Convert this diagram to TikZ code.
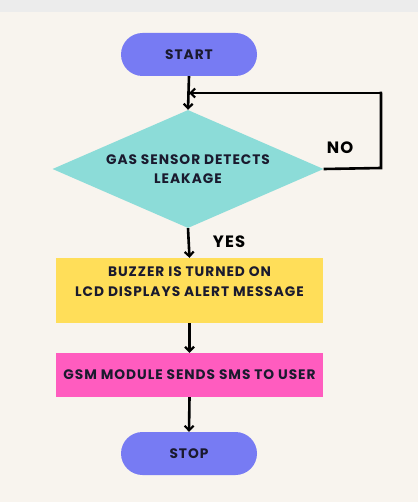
\documentclass[tikz,border=0pt]{standalone}
\usepackage{fontspec}
\setmainfont{Poppins}[LetterSpace=7]
\usetikzlibrary{shapes.geometric,shapes.misc,arrows.meta}
\definecolor{bgc}{HTML}{F8F4EE}
\definecolor{topc}{HTML}{ECECEC}
\definecolor{termc}{HTML}{777BF3}
\definecolor{decc}{HTML}{8CDCD8}
\definecolor{yelc}{HTML}{FFDE59}
\definecolor{pinkc}{HTML}{FF5CBF}
\definecolor{txtc}{HTML}{1A1A2E}
\tikzset{
  px/.style={x=1bp,y=-1bp},
  lbl/.style={font=\bfseries\fontsize{13.8}{19.5}\selectfont, text=txtc, align=center},
  biglbl/.style={font=\bfseries\fontsize{16.5}{19.5}\selectfont, text=black, align=center},
  term/.style={lbl, fill=termc, rounded rectangle, minimum width=136bp, minimum height=43bp, inner sep=0pt},
  dec/.style={lbl, fill=decc, diamond, aspect=2.3, minimum width=271bp, minimum height=118bp, inner sep=0pt},
  procbox/.style={lbl, fill=#1, rectangle, minimum width=267bp, inner sep=0pt},
  conn/.style={line width=2.6bp, -{Straight Barb[length=4.5bp,width=9bp,line width=2.2bp]}},
  plain/.style={line width=2.6bp},
}
\begin{document}
\begin{tikzpicture}[px]
\fill[bgc] (0,0) rectangle (418,502);
\fill[topc] (0,0) rectangle (418,12);
\useasboundingbox (0,0) rectangle (418,502);
\node[term] (start) at (189,54.5) {START};
\node[dec] (dec) at (188,169) {};
\node[lbl] (dect) at (188,169) {GAS SENSOR DETECTS\\LEAKAGE};
\node[procbox=yelc, minimum height=65bp] (buz) at (189.5,290.5) {};
\node[lbl] (buzt) at (189.5,281.5) {BUZZER IS TURNED ON\\LCD DISPLAYS ALERT MESSAGE};
\node[procbox=pinkc, minimum height=44bp] (gsm) at (189.5,375) {GSM MODULE SENDS SMS TO USER};
\node[term] (stop) at (189,453.5) {STOP};
\coordinate (r1) at (381,168);
\coordinate (r2) at (381,93);
\coordinate (r3) at (189,93);
\draw[conn] (start.south) -- (dec.north);
\draw[plain] (dec.east) -- (r1) -- (r2) -- ([xshift=1bp]r2);
\draw[conn] (r2) -- (r3);
\draw[conn] (dec.south) -- (buz.north);
\draw[conn] (buz.south) -- (gsm.north);
\draw[conn] (gsm.south) -- (stop.north);
\node[biglbl] (no) at (340,148) {NO};
\node[biglbl] (yes) at (229,242) {YES};
\end{tikzpicture}
\end{document}
